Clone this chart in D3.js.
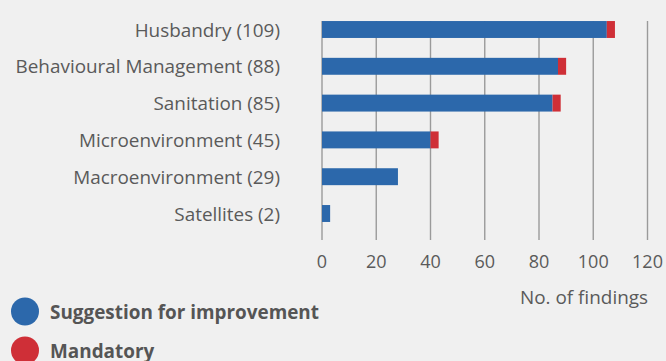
<!DOCTYPE html>
<html><head><meta charset="utf-8">
<script src="https://cdn.jsdelivr.net/npm/d3@7"></script>
<style>
html,body{margin:0;padding:0;background:#f0f0f0;}
svg{display:block;}
text{font-family:"Open Sans",sans-serif;}
</style></head>
<body><svg id="c" width="666" height="361"></svg>
<script>
const categories = ["Husbandry (109)","Behavioural Management (88)","Sanitation (85)","Microenvironment (45)","Macroenvironment (29)","Satellites (2)"];
const suggestion = [105, 87, 85, 40, 28, 3];
const mandatory  = [3, 3, 3, 3, 0, 0];
const ticks = [0,20,40,60,80,100,120];
const seriesNames = ["Suggestion for improvement","Mandatory"];
const colors = ["#2c68ab","#cf2f37"];

const svg = d3.select("#c");
const x = d3.scaleLinear().domain([0,120]).range([322,647.5]);
const y = d3.scaleBand().domain(categories).range([11.1,231.9]).paddingInner(0.54).paddingOuter(0.27);

// gridlines
svg.append("g").selectAll("line").data(ticks).join("line")
  .attr("x1",d=>x(d)).attr("x2",d=>x(d))
  .attr("y1",21).attr("y2",240)
  .attr("stroke","#9a9a9a").attr("stroke-width",1.4);

const data = categories.map((c,i)=>({c, s:suggestion[i], m:mandatory[i]}));
const stack = d3.stack().keys(["s","m"])(data);
svg.append("g").selectAll("g").data(stack).join("g")
  .attr("fill",(d,i)=>colors[i])
  .selectAll("rect").data(d=>d).join("rect")
  .attr("x",d=>x(d[0])).attr("width",d=>x(d[1])-x(d[0]))
  .attr("y",d=>y(d.data.c)).attr("height",y.bandwidth());

// category labels
svg.append("g").selectAll("text").data(categories).join("text")
  .attr("x",280).attr("y",d=>y(d)+y.bandwidth()/2)
  .attr("text-anchor","end").attr("dominant-baseline","central")
  .attr("fill","#5a5a5a").attr("font-size",18.9).text(d=>d);

// tick labels
svg.append("g").selectAll("text").data(ticks).join("text")
  .attr("x",d=>x(d)).attr("y",261)
  .attr("text-anchor","middle").attr("dominant-baseline","central")
  .attr("fill","#5a5a5a").attr("font-size",18).text(d=>d);

svg.append("text").attr("x",648).attr("y",297)
  .attr("text-anchor","end").attr("dominant-baseline","central")
  .attr("fill","#5a5a5a").attr("font-size",18.9).text("No. of findings");

// legend
const lg = svg.append("g").selectAll("g").data(seriesNames).join("g")
  .attr("transform",(d,i)=>`translate(25,${311.5+i*39})`);
lg.append("circle").attr("r",14).attr("fill",(d,i)=>colors[i]);
lg.append("text").attr("x",25).attr("dominant-baseline","central")
  .attr("fill","#555").attr("font-size",18.9).attr("font-weight","bold").text(d=>d);
</script></body></html>
